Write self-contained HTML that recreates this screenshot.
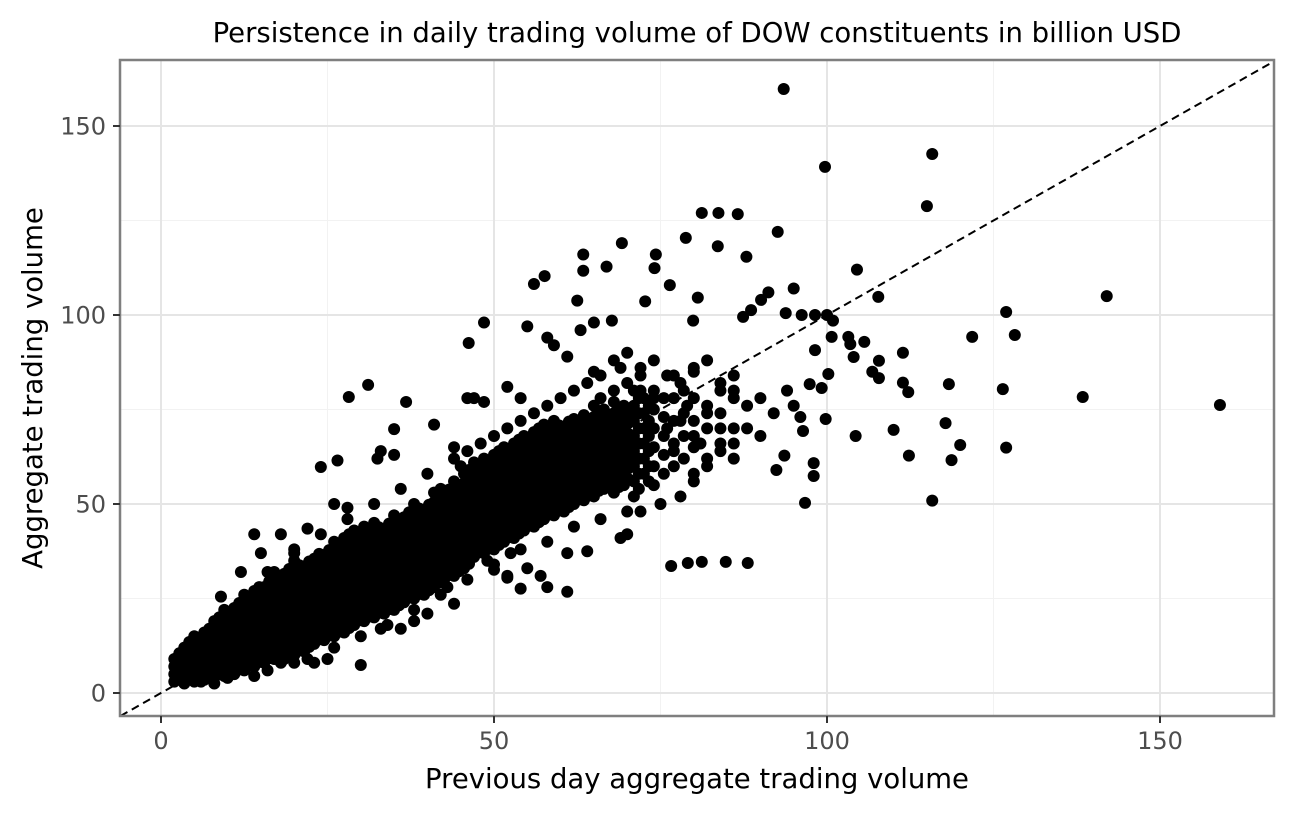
<!DOCTYPE html>
<html><head><meta charset="utf-8">
<style>
html,body{margin:0;padding:0;background:#fff;width:1294px;height:814px;overflow:hidden;font-family:"DejaVu Sans","Liberation Sans",sans-serif;}
</style></head>
<body>
<svg id="chart" width="1294" height="814" xmlns="http://www.w3.org/2000/svg" font-family="DejaVu Sans, Liberation Sans, sans-serif">
<text x="697" y="42" text-anchor="middle" font-size="27.5" fill="#000">Persistence in daily trading volume of DOW constituents in billion USD</text>
<text x="697" y="788" text-anchor="middle" font-size="27.5" fill="#000">Previous day aggregate trading volume</text>
<text transform="translate(42,388) rotate(-90)" text-anchor="middle" font-size="27.5" fill="#000">Aggregate trading volume</text>
<g id="grid"></g>
<g id="points"></g>
<g id="frame"></g>
<g id="ticks"></g>
</svg>
<script>
const majorTicks = [0, 50, 100, 150];
const minorTicks = [25, 75, 125];
const tickLabels = ["0", "50", "100", "150"];
const denseX = [2,3.5,5,6.5,8,9.5,11,12.5,14,15.5,17,18.5,20,21.5,23,24.5,26,27.5,29,30.5,32,33.5,35,36.5,38,39.5,41,42.5,44,45.5,47,48.5,50,51.5,53,54.5,56,57.5,59,60.5,62,63.5,65,66.5,68,69.5,71,72.5,74,75.5,77,78.5,80,82,84,86];
const denseY = [
[3,5,7,9],[2.5,5,7.5,10,12],[3,5.5,8,10.5,13,15],[3.5,6,8.5,11,13.5,16],[4,6.5,9,11.5,14,16.5,19],
[4.5,7,9.5,12,14.5,17,19.5,22],[5,7.5,10,12.5,15,17.5,20,22.5],[6,8.5,11,13.5,16,18.5,21,23.5,26],
[7,9.5,12,14.5,17,19.5,22,24.5,27],[8,10.5,13,15.5,18,20.5,23,25.5,28],[9,11.5,14,16.5,19,21.5,24,26.5,29,32],
[9,11.5,14,16.5,19,21.5,24,26.5,29,31.5],[10,12.5,15,17.5,20,22.5,25,27.5,30,32.5,35],[11,13.5,16,18.5,21,23.5,26,28.5,31,33.5],
[13,15.5,18,20.5,23,25.5,28,30.5,33,35.5],[14,16.5,19,21.5,24,26.5,29,31.5,34,36.5],[15,17.5,20,22.5,25,27.5,30,32.5,35,37.5,40],
[16,18.5,21,23.5,26,28.5,31,33.5,36,38.5,41],[18,20.5,23,25.5,28,30.5,33,35.5,38,40.5,43],[19,21.5,24,26.5,29,31.5,34,36.5,39,41.5,44],
[20,22.5,25,27.5,30,32.5,35,37.5,40,42.5,45],[21,23.5,26,28.5,31,33.5,36,38.5,41,43.5],[22,24.5,27,29.5,32,34.5,37,39.5,42,44.5,47],
[24,26.5,29,31.5,34,36.5,39,41.5,44,46.5],[25,27.5,30,32.5,35,37.5,40,42.5,45,47.5,50],[26,28.5,31,33.5,36,38.5,41,43.5,46,48.5],
[28,30.5,33,35.5,38,40.5,43,45.5,48,50.5,53],[30,32.5,35,37.5,40,42.5,45,47.5,50,52.5],[31,33.5,36,38.5,41,43.5,46,48.5,51,53.5,56],
[33,35.5,38,40.5,43,45.5,48,50.5,53,55.5,58],[36,38.5,41,43.5,46,48.5,51,53.5,56,58.5,61],[37,39.5,42,44.5,47,49.5,52,54.5,57,59.5,62],
[38,40.5,43,45.5,48,50.5,53,55.5,58,60.5,63],[40,42.5,45,47.5,50,52.5,55,57.5,60,62.5,65],[41,43.5,46,48.5,51,53.5,56,58.5,61,63.5,66],
[43,45.5,48,50.5,53,55.5,58,60.5,63,65.5,68],[44,46.5,49,51.5,54,56.5,59,61.5,64,66.5,69],[46,48.5,51,53.5,56,58.5,61,63.5,66,68.5,71],
[47,49.5,52,54.5,57,59.5,62,64.5,67,69.5,72],[48,50.5,53,55.5,58,60.5,63,65.5,68,70.5],[50,52.5,55,57.5,60,62.5,65,67.5,70,72.5],
[51,53.5,56,58.5,61,63.5,66,68.5,71,73.5],[52,55,58,61,64,67,70,73,76],[54,57,60,63,66,69,72,75],[53,56,59,62,65,68,71,74,77],
[55,58,61,64,67,70,73,76],[52,56,60,64,68,72,76,80],[58,62,66,70,74,78],[55,60,65,70,75,80],[58,63,68,73,78],[60,66,72,78,84],
[62,68,74,80],[58,65,72,78,85],[62,70,76],[66,74,80],[62,70,78,84]
];
const denseX2 = [2.75,4.25,5.75,7.25,8.75,10.25,11.75,13.25,14.75,16.25,17.75,19.25,20.75,22.25,23.75,25.25,26.75,28.25,29.75,31.25,32.75,34.25,35.75,37.25,38.75,40.25,41.75,43.25,44.75,46.25,47.75,49.25,50.75,52.25,53.75,55.25,56.75,58.25,59.75,61.25,62.75,64.25,65.75,67.25,68.75,70.25,71.75,73.25];
const denseY2 = [
[4.2,6.2,8.2,10.5],[3.8,6.2,8.8,11.2,13.5],[4.2,6.8,9.2,11.8,14.2],[4.8,7.2,9.8,12.2,14.8,17],
[5.2,7.8,10.2,12.8,15.2,17.8,20],[5.8,8.2,10.8,13.2,15.8,18.2,20.8],[6.2,8.8,11.2,13.8,16.2,18.8,21.2,23.8],
[7.2,9.8,12.2,14.8,17.2,19.8,22.2,24.8],[8.2,10.8,13.2,15.8,18.2,20.8,23.2,25.8,28],[9.2,11.8,14.2,16.8,19.2,21.8,24.2,26.8,29.5],
[10.2,12.8,15.2,17.8,20.2,22.8,25.2,27.8,30.2],[10.2,12.8,15.2,17.8,20.2,22.8,25.2,27.8,30.2,32.8],[11.2,13.8,16.2,18.8,21.2,23.8,26.2,28.8,31.2,33.8],
[12.2,14.8,17.2,19.8,22.2,24.8,27.2,29.8,32.2,34.8],[14.2,16.8,19.2,21.8,24.2,26.8,29.2,31.8,34.2,36.8],[15.2,17.8,20.2,22.8,25.2,27.8,30.2,32.8,35.2,37.8],
[16.2,18.8,21.2,23.8,26.2,28.8,31.2,33.8,36.2,38.8],[17.2,19.8,22.2,24.8,27.2,29.8,32.2,34.8,37.2,39.8,42],[19.2,21.8,24.2,26.8,29.2,31.8,34.2,36.8,39.2,41.8],
[20.2,22.8,25.2,27.8,30.2,32.8,35.2,37.8,40.2,42.8],[21.2,23.8,26.2,28.8,31.2,33.8,36.2,38.8,41.2,43.8],[22.2,24.8,27.2,29.8,32.2,34.8,37.2,39.8,42.2,44.8],
[23.2,25.8,28.2,30.8,33.2,35.8,38.2,40.8,43.2,45.8],[25.2,27.8,30.2,32.8,35.2,37.8,40.2,42.8,45.2,47.8],[26.2,28.8,31.2,33.8,36.2,38.8,41.2,43.8,46.2,48.8],
[27.2,29.8,32.2,34.8,37.2,39.8,42.2,44.8,47.2,49.8],[29.2,31.8,34.2,36.8,39.2,41.8,44.2,46.8,49.2,51.8],[31.2,33.8,36.2,38.8,41.2,43.8,46.2,48.8,51.2,53.8],
[32.2,34.8,37.2,39.8,42.2,44.8,47.2,49.8,52.2,54.8],[34.2,36.8,39.2,41.8,44.2,46.8,49.2,51.8,54.2,56.8,59],[37.2,39.8,42.2,44.8,47.2,49.8,52.2,54.8,57.2,59.8],
[38.2,40.8,43.2,45.8,48.2,50.8,53.2,55.8,58.2,60.8],[39.2,41.8,44.2,46.8,49.2,51.8,54.2,56.8,59.2,61.8,64],[41.2,43.8,46.2,48.8,51.2,53.8,56.2,58.8,61.2,63.8],
[42.2,44.8,47.2,49.8,52.2,54.8,57.2,59.8,62.2,64.8,67],[44.2,46.8,49.2,51.8,54.2,56.8,59.2,61.8,64.2,66.8],[45.2,47.8,50.2,52.8,55.2,57.8,60.2,62.8,65.2,67.8,70],
[47.2,49.8,52.2,54.8,57.2,59.8,62.2,64.8,67.2,69.8],[48.2,50.8,53.2,55.8,58.2,60.8,63.2,65.8,68.2,70.8],[49.2,51.8,54.2,56.8,59.2,61.8,64.2,66.8,69.2,71.8],
[51.2,53.8,56.2,58.8,61.2,63.8,66.2,68.8,71.2],[52.2,54.8,57.2,59.8,62.2,64.8,67.2,69.8,72.2],[53.5,56.5,59.5,62.5,65.5,68.5,71.5,74.5],
[55.5,58.5,61.5,64.5,67.5,70.5,73.5],[54.5,57.5,60.5,63.5,66.5,69.5,72.5,75.5],[56.5,59.5,62.5,65.5,68.5,71.5,74.5],
[54,58,62,66,70,74,78],[56,60,64,68,72,76]
];
const outX = [93.5,99.7,115.8,115,81.2,83.7,86.6,78.8,83.6,87.9,69.2,63.4,63.4,66.9,74.3,74.1,76.4,62.5,72.7,80.6,95,91.2,90.1,88.6,87.4,93.8,96.2,98.2,100,100.9,79.9,67.7,92.6,104.5,107.7,142,126.9,128.2,121.8,111.4,103.2,103.5,105.6,104,107.8,106.8,107.8,111.4,112.2,100.7,100.2,98.2,99.2,97.4,96.4,93.6,92.4,118.3,126.4,138.4,159,117.8,110,104.3,112.3,120,118.7,126.9,115.8,96.7,99.8,98,98,76.6,79.1,81.2,84.8,88.1,65,68,70,72,74,76,78,80,82,84,86,88,90,92,94,95,96,88,90,86,84,82,80,78,75,72,70,69,61,64,57,52,54,58,61,52.5,31.1,28.2,36.8,33,35,35,32.5,26.5,24,20,15,14,18,12,9,22,26,28,41,46,47,48.5,48.5,46.2,55,58,57.6,56,59,61,63,65,52,54,45,44,42,30,23,36,38,33,40,44,43,50,52,55,46,49,42,6,8,10,14,16,18,20,25,
60,62,64,66,68,70,72,66,58,56,54,52,50,48,46,44,40,36,32,28,24,20,16,70,66,62,58,54,50,46,42,38,34,30,26,22,76,78,80,82,84,79,81,77,74,72,69];
const outY = [159.8,139.2,142.6,128.8,127,127,126.7,120.4,118.2,115.4,119,116,111.7,112.8,116,112.4,107.9,103.8,103.6,104.6,107,106,104,101.3,99.5,100.5,100,100,100,98.5,98.5,98.5,122,112,104.8,105,100.8,94.7,94.2,90,94.2,92.3,92.9,88.9,87.9,85,83.3,82.1,79.6,94.2,84.4,90.7,80.7,81.7,69.3,62.8,59,81.7,80.4,78.3,76.2,71.4,69.6,68,62.8,65.6,61.6,64.9,50.9,50.3,72.5,60.8,57.4,33.6,34.4,34.7,34.7,34.4,85,88,90,86,88,84,82,86,88,82,80,76,78,74,80,76,73,70,68,66,64,60,56,52,50,48,42,41,37,37.5,31,30.5,27.6,28,26.8,37,81.5,78.3,77,64,63,69.8,62,61.5,59.8,37,37,42,42,32,25.5,43.5,50,49,71,78,78,77,98,92.6,97,94,110.3,108.2,92,89,96,98,81,78,60,65,54,7.4,8,17,19,17,21,23.6,28,32.6,31,33,36,35,36,3,2.5,4,4.5,6,8,8,9,
78,80,82,84,80,82,80,78,76,74,72,70,68,66,64,62,58,54,50,46,42,38,32,48,46,44,40,38,34,30,26,22,18,15,12,9,70,72,68,74,70,76,66,64,78,84,86];

const L=120,T=60,R=1274,B=716;
const x0px=161, xScale=6.66, y0px=693, yScale=3.78;
const sx = v => x0px + v*xScale;
const sy = v => y0px - v*yScale;
const NS="http://www.w3.org/2000/svg";
function mk(tag, attrs, parent){const e=document.createElementNS(NS,tag);for(const k in attrs)e.setAttribute(k,attrs[k]);parent.appendChild(e);return e;}
const grid=document.getElementById('grid'), pts=document.getElementById('points'), frame=document.getElementById('frame'), ticks=document.getElementById('ticks');

mk('rect',{x:L,y:T,width:R-L,height:B-T,fill:'#fff'},grid);
minorTicks.forEach(v=>{
  const a=mk('line',{x1:sx(v),x2:sx(v),y1:T,y2:B,stroke:'#f2f2f2','stroke-width':1},grid);
  
  
  const b=mk('line',{x1:L,x2:R,y1:sy(v),y2:sy(v),stroke:'#f2f2f2','stroke-width':1},grid);
  
  
});
majorTicks.forEach((v,i)=>{
  const a=mk('line',{x1:sx(v),x2:sx(v),y1:T,y2:B,stroke:'#e5e5e5','stroke-width':2},grid);
  
  
  const b=mk('line',{x1:L,x2:R,y1:sy(v),y2:sy(v),stroke:'#e5e5e5','stroke-width':2},grid);
  
  
  const tx=mk('line',{x1:sx(v),x2:sx(v),y1:B,y2:B+7,stroke:'#333','stroke-width':2},ticks);
  
  
  const lx=mk('text',{x:sx(v),y:B+33,'text-anchor':'middle','font-size':24,fill:'#4d4d4d'},ticks);
  lx.textContent=tickLabels[i];
  
  
  const ty=mk('line',{x1:L-7,x2:L,y1:sy(v),y2:sy(v),stroke:'#333','stroke-width':2},ticks);
  
  
  const ly=mk('text',{x:L-14,y:sy(v)+8.5,'text-anchor':'end','font-size':24,fill:'#4d4d4d'},ticks);
  ly.textContent=tickLabels[i];
  
  
});

function dot(x,y){
  const c=mk('circle',{cx:sx(x),cy:sy(y),r:6,fill:'#000'},pts);
  
  
}
denseX.forEach((x,i)=>denseY[i].forEach(y=>dot(x,y)));
denseX2.forEach((x,i)=>denseY2[i].forEach(y=>dot(x,y)));
outX.forEach((x,i)=>dot(x,outY[i]));

const vmin=Math.max((L-x0px)/xScale,(y0px-B)/yScale), vmax=Math.min((R-x0px)/xScale,(y0px-T)/yScale);
const d=mk('line',{x1:sx(vmin),y1:sy(vmin),x2:sx(vmax),y2:sy(vmax),stroke:'#000','stroke-width':2,'stroke-dasharray':'8,5'},frame);


const f=mk('rect',{x:L,y:T,width:R-L,height:B-T,fill:'none',stroke:'#7f7f7f','stroke-width':2.5},frame);


</script>
</body></html>
